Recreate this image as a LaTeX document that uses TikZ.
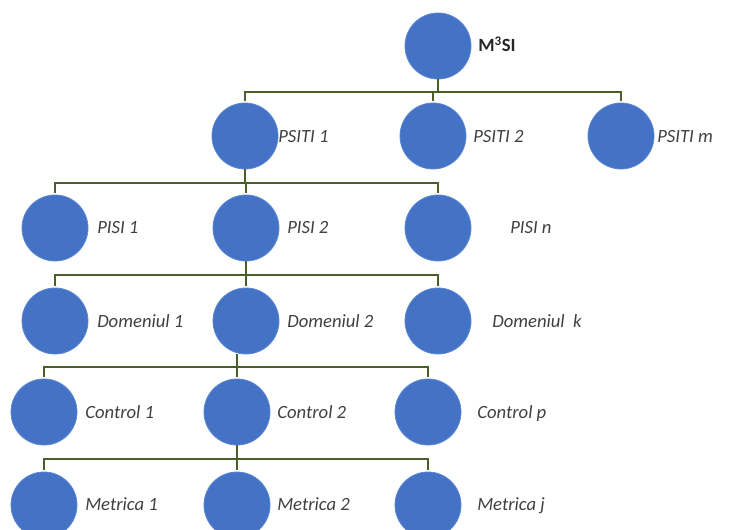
\documentclass[tikz,border=0pt]{standalone}
\usepackage{fontspec}
\setmainfont{Carlito}
\definecolor{dotblue}{HTML}{4472C4}
\definecolor{dotedge}{HTML}{5A86D2}
\definecolor{linkgreen}{HTML}{4A5E2A}
\definecolor{labelgray}{HTML}{404040}
\begin{document}
\begin{tikzpicture}[x=0.75pt,y=-0.75pt,
  dot/.style={circle,fill=dotblue,draw=dotedge,line width=0.6pt,minimum size=49.5pt,inner sep=0pt},
  lbl/.style={anchor=base west,inner sep=0pt,text=labelgray,font=\fontsize{14}{16}\selectfont\itshape},
  link/.style={draw=linkgreen,line width=1.6pt},
  drop/.style={link,shorten >=1.5pt}]
\useasboundingbox (0,0) rectangle (734,530);

% level 0
\node[dot] (r) at (438,46) {};
\node[anchor=base west,inner sep=0pt,text=black!85,font=\fontsize{14}{16}\selectfont\bfseries] (lr) at (478,52) {M\textsuperscript{3}SI};

% level 1
\node[dot] (a1) at (245,136) {};
\node[dot] (a2) at (433,136) {};
\node[dot] (a3) at (621,136) {};
\node[lbl] (la1) at (278,143) {PSITI 1};
\node[lbl] (la2) at (473,143) {PSITI 2};
\node[lbl] (la3) at (657,143) {PSITI m};

% level 2
\node[dot] (b1) at (55,228) {};
\node[dot] (b2) at (246,228) {};
\node[dot] (b3) at (438,228) {};
\node[lbl] (lb1) at (97,234) {PISI 1};
\node[lbl] (lb2) at (287,234) {PISI 2};
\node[lbl] (lb3) at (510,234) {PISI n};

% level 3
\node[dot] (c1) at (55,321) {};
\node[dot] (c2) at (246,321) {};
\node[dot] (c3) at (438,321) {};
\node[lbl] (lc1) at (97,328) {Domeniul 1};
\node[lbl] (lc2) at (287,328) {Domeniul 2};
\node[lbl] (lc3) at (492,328) {Domeniul\ \ k};

% level 4
\node[dot] (d1) at (44,412) {};
\node[dot] (d2) at (237,412) {};
\node[dot] (d3) at (428,412) {};
\node[lbl] (ld1) at (85,418) {Control 1};
\node[lbl] (ld2) at (277,418) {Control 2};
\node[lbl] (ld3) at (477,418) {Control p};

% level 5
\node[dot] (e1) at (44,505) {};
\node[dot] (e2) at (237,505) {};
\node[dot] (e3) at (428,505) {};
\node[lbl] (le1) at (85,510) {Metrica 1};
\node[lbl] (le2) at (277,510) {Metrica 2};
\node[lbl] (le3) at (477,510) {Metrica j};

% bus junctions
\coordinate (j0) at (438,92);
\coordinate (j1) at (245,183);
\coordinate (j2) at (246,275);
\coordinate (j3) at (237,367);
\coordinate (j4) at (237,459);

% connectors
\draw[link] (r) -- (j0);
\draw[drop] (j0) -| (a1.north);
\draw[drop] (j0) -| (a3.north);
\draw[drop] (j0 -| a2.north) -- (a2.north);

\draw[link] (a1) -- (j1);
\draw[drop] (j1) -| (b1.north);
\draw[drop] (j1) -| (b3.north);
\draw[drop] (j1 -| b2.north) -- (b2.north);

\draw[link] (b2) -- (j2);
\draw[drop] (j2) -| (c1.north);
\draw[drop] (j2) -| (c3.north);
\draw[drop] (j2 -| c2.north) -- (c2.north);

\draw[link] (j3 |- c2.south) -- (j3);
\draw[drop] (j3) -| (d1.north);
\draw[drop] (j3) -| (d3.north);
\draw[drop] (j3) -- (d2.north);

\draw[link] (d2) -- (j4);
\draw[drop] (j4) -| (e1.north);
\draw[drop] (j4) -| (e3.north);
\draw[drop] (j4) -- (e2.north);
\end{tikzpicture}
\end{document}
